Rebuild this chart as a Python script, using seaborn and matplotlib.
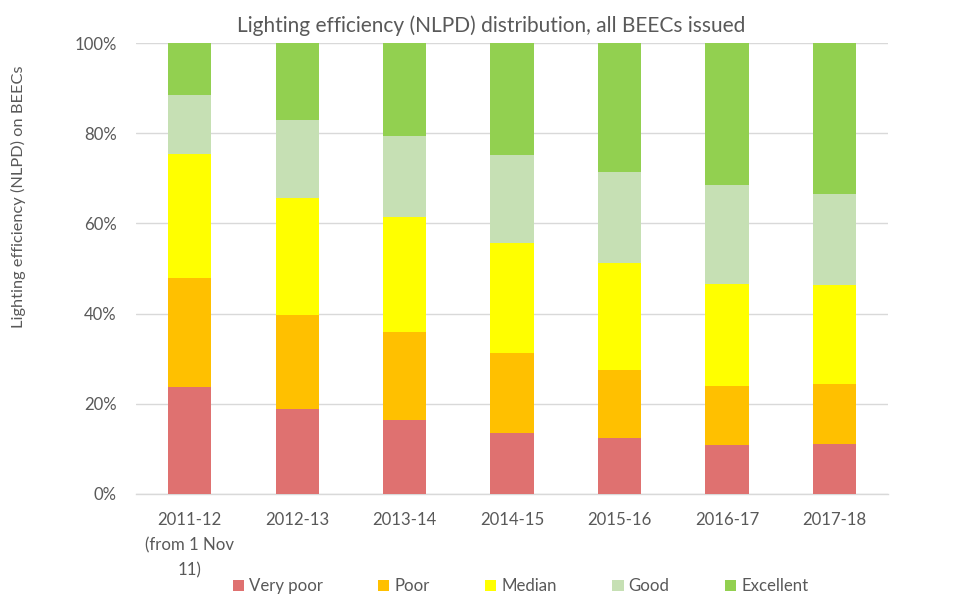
import numpy as np
import pandas as pd
import matplotlib
matplotlib.use("Agg")
import matplotlib.pyplot as plt
import seaborn as sns
from matplotlib.patches import Patch
from matplotlib.ticker import FixedLocator, PercentFormatter

# Share of BEECs in each lighting efficiency band (percent)
years = ["2011-12\n(from 1 Nov\n11)", "2012-13", "2013-14", "2014-15",
         "2015-16", "2016-17", "2017-18"]
very_poor = [23.7, 18.9, 16.4, 13.5, 12.4, 10.8, 11.0]
poor = [24.1, 20.7, 19.5, 17.7, 15.0, 13.1, 13.3]
median = [27.6, 26.1, 25.5, 24.5, 23.9, 22.7, 22.1]
good = [13.0, 17.2, 17.9, 19.4, 20.1, 21.9, 20.1]
excellent = [11.6, 17.1, 20.7, 24.9, 28.6, 31.5, 33.5]

bands = ["Very poor", "Poor", "Median", "Good", "Excellent"]
colours = ["#DF7170", "#FFC000", "#FFFF00", "#C6E0B4", "#92D050"]

df = pd.DataFrame({"Year": years, "Very poor": very_poor, "Poor": poor,
                   "Median": median, "Good": good, "Excellent": excellent})

# cumulative tops so the bars can be overlaid from the top down
cum = df[bands].cumsum(axis=1) / 100.0
cum["Year"] = df["Year"]

grey = "#595959"
sns.set_style("white")
plt.rcParams["font.family"] = ["Lato", "DejaVu Sans"]

fig, ax = plt.subplots(figsize=(9.55, 6.15), dpi=100)
fig.subplots_adjust(left=0.1424, right=0.930, top=0.930, bottom=0.197)

for band, col in zip(bands[::-1], colours[::-1]):
    sns.barplot(data=cum, x="Year", y=band, color=col, width=0.403,
                saturation=1, linewidth=0, edgecolor="none", ax=ax, zorder=3)

ax.set_ylim(0, 1)
ax.set_xlim(-0.5, 6.5)
ax.yaxis.set_major_locator(FixedLocator(np.arange(0, 1.01, 0.2)))
ax.yaxis.set_major_formatter(PercentFormatter(1.0, decimals=0))
ax.grid(axis="y", color="#D9D9D9", linewidth=1, zorder=0)
ax.set_axisbelow(True)

for s in ["left", "right", "top"]:
    ax.spines[s].set_visible(False)
ax.spines["bottom"].set_color("#D9D9D9")
ax.spines["bottom"].set_linewidth(1)

ax.tick_params(axis="y", length=0, labelsize=12.1, labelcolor=grey, pad=14)
ax.tick_params(axis="x", which="major", length=0, labelsize=12.1,
               labelcolor=grey, pad=13)
ax.xaxis.set_minor_locator(FixedLocator(np.arange(-0.5, 7, 1)))
ax.tick_params(axis="x", which="minor", length=5, color="#D9D9D9", width=1)
for lab in ax.get_xticklabels():
    lab.set_linespacing(1.68)

ax.set_xlabel("")
ax.set_ylabel("Lighting efficiency (NLPD) on BEECs", fontsize=11.8, color=grey)
ax.yaxis.set_label_coords(-0.146, 0.659)
ax.set_title("Lighting efficiency (NLPD) distribution, all BEECs issued",
             fontsize=15.0, color=grey, pad=8, x=0.472)

handles = [Patch(facecolor=c, edgecolor="none", label=b)
           for b, c in zip(bands, colours)]
fig.legend(handles=handles, loc="center", bbox_to_anchor=(0.545, 0.047),
           ncol=5, frameon=False, fontsize=12.1, labelcolor=grey,
           handlelength=0.66, handleheight=0.66, handletextpad=0.3,
           columnspacing=3.3)

fig.savefig("out.png", dpi=100)
